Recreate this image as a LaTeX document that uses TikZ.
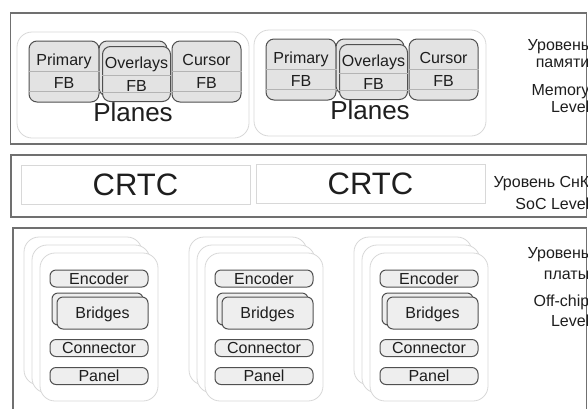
\documentclass[tikz,border=0pt]{standalone}
\usepackage{fontspec}
\setmainfont{Liberation Sans}
\usetikzlibrary{positioning}
\definecolor{mFrame}{HTML}{707070}
\definecolor{mEdge}{HTML}{505050}
\definecolor{mFill}{HTML}{E3E3E3}
\definecolor{mPart}{HTML}{EEEEEE}
\definecolor{mLight}{HTML}{D8D8D8}
\definecolor{mRule}{HTML}{B4B4B4}
\definecolor{mText}{HTML}{1E1E1E}
\tikzset{
  frame/.style={draw=mFrame, line width=1.5pt},
  group/.style={draw=mLight, fill=white, rounded corners=15pt, line width=0.8pt,
    minimum width=232pt, minimum height=106pt},
  fbbox/.style={draw=mEdge, fill=mFill, rounded corners=8pt, line width=1pt,
    minimum width=70pt, minimum height=61pt, align=center,
    font=\fontsize{16}{23}\selectfont},
  divider/.style={draw=mRule, line width=0.8pt},
  crtcbox/.style={draw=mLight, line width=0.8pt, minimum width=229pt, minimum height=39pt,
    font=\fontsize{31}{36}\selectfont},
  card/.style={draw=mLight, fill=white, rounded corners=15pt, line width=0.8pt,
    minimum width=118pt, minimum height=148pt},
  part/.style={draw=mEdge, fill=mPart, rounded corners=6pt, line width=1pt,
    minimum width=98pt, minimum height=17pt, text depth=0pt,
    font=\fontsize{16}{19}\selectfont},
  lvl/.style={anchor=base east, font=\fontsize{16}{19}\selectfont}
}
\begin{document}
\begin{tikzpicture}[x=1pt, y=-1pt, every node/.style={inner sep=0pt, text=mText}]
  \useasboundingbox (0,0) rectangle (588,408);
  \clip (0,0) rectangle (588,408);
  \draw[frame] (10.5,13) rectangle (586.5,144);
  \draw[frame] (11,155) rectangle (586.5,217);
  \draw[frame] (13,228) rectangle (586.5,420);

  \foreach \g in {0,1} {
    \begin{scope}[xshift={\g*237pt}, yshift={\g*2pt}]
      \node[group] (grp\g) at (133,85) {};
      \node[fbbox] (pri\g) at (64,71.5) {Primary\\FB};
      \node[fbbox, minimum width=68pt, minimum height=55pt] (ovb\g) at (133,68.5) {};
      \node[fbbox, minimum width=68pt, minimum height=55pt] (ovf\g) at (136.5,74) {Overlays\\FB};
      \node[fbbox, minimum width=69pt] (cur\g) at (206.5,71.5) {Cursor\\FB};
      \foreach \b in {pri,cur}
        \draw[divider] ([yshift=0.5pt]\b\g.west) -- ([yshift=0.5pt]\b\g.east)
                       ([yshift=-19.5pt]\b\g.west) -- ([yshift=-19.5pt]\b\g.east);
      \draw[divider] ([yshift=-1pt]ovf\g.west) -- ([yshift=-1pt]ovf\g.east)
                     ([yshift=-18pt]ovf\g.west) -- ([yshift=-18pt]ovf\g.east);
      \node[anchor=base, font=\fontsize{26}{30}\selectfont] (pln\g) at (133,121) {Planes};
    \end{scope}
  }

  \node[crtcbox] (crtc0) at (135.5,185) {CRTC};
  \node[crtcbox] (crtc1) at (370.5,184) {CRTC};

  \foreach \s in {0,1,2} {
    \begin{scope}[xshift={\s*165pt}]
      \foreach \k in {0,1,2}
        \node[card] (crd\s\k) at (83+8*\k,311+8*\k) {};
      \node[part] (enc\s) at (99,278.5) {Encoder};
      \node[part, minimum width=91pt, minimum height=32pt] (brb\s) at (97.5,309) {};
      \node[part, minimum width=91pt, minimum height=32pt] (brf\s) at (102.5,313) {Bridges};
      \node[part] (con\s) at (99,348) {Connector};
      \node[part] (pan\s) at (99,376) {Panel};
    \end{scope}
  }

  \foreach \t/\y [count=\i] in {Уровень/50, памяти/67, Memory/95, Level/112,
      Уровень СнК/187, SoC Level/209, Уровень/258, платы/279, Off-chip/306, Level/326}
    \node[lvl] (lvl\i) at (589.5,\y) {\t};
\end{tikzpicture}
\end{document}
